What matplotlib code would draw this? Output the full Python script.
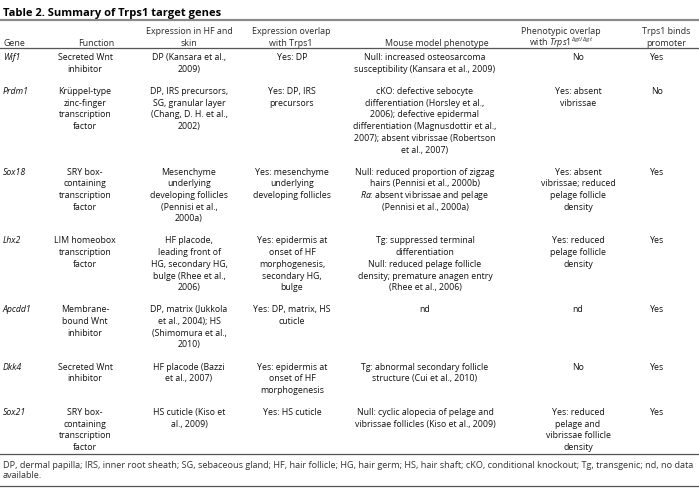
import matplotlib
matplotlib.use("Agg")
import matplotlib.pyplot as plt

plt.rcParams['font.family'] = ['Open Sans', 'DejaVu Sans']
plt.rcParams['mathtext.fontset'] = 'custom'
plt.rcParams['mathtext.rm'] = 'Open Sans'
plt.rcParams['mathtext.it'] = 'Open Sans:italic'

title = "Table 2. Summary of Trps1 target genes"

headers = ["Gene", "Function", "Expression in HF and\nskin", "Expression overlap\nwith Trps1",
           "Mouse model phenotype", "Phenotypic overlap\nwith $\\mathit{Trps1}^{\\mathit{\\Delta gt/\\Delta gt}}$",
           "Trps1 binds\npromoter"]

genes = ["Wif1", "Prdm1", "Sox18", "Lhx2", "Apcdd1", "Dkk4", "Sox21"]
functions = ["Secreted Wnt\ninhibitor",
             "Krüppel-type\nzinc-finger\ntranscription\nfactor",
             "SRY box-\ncontaining\ntranscription\nfactor",
             "LIM homeobox\ntranscription\nfactor",
             "Membrane-\nbound Wnt\ninhibitor",
             "Secreted Wnt\ninhibitor",
             "SRY box-\ncontaining\ntranscription\nfactor"]
expr_hf = ["DP (Kansara et al.,\n2009)",
           "DP, IRS precursors,\nSG, granular layer\n(Chang, D. H. et al.,\n2002)",
           "Mesenchyme\nunderlying\ndeveloping follicles\n(Pennisi et al.,\n2000a)",
           "HF placode,\nleading front of\nHG, secondary HG,\nbulge (Rhee et al.,\n2006)",
           "DP, matrix (Jukkola\net al., 2004); HS\n(Shimomura et al.,\n2010)",
           "HF placode (Bazzi\net al., 2007)",
           "HS cuticle (Kiso et\nal., 2009)"]
expr_overlap = ["Yes: DP",
                "Yes: DP, IRS\nprecursors",
                "Yes: mesenchyme\nunderlying\ndeveloping follicles",
                "Yes: epidermis at\nonset of HF\nmorphogenesis,\nsecondary HG,\nbulge",
                "Yes: DP, matrix, HS\ncuticle",
                "Yes: epidermis at\nonset of HF\nmorphogenesis",
                "Yes: HS cuticle"]
phenotype = ["Null: increased osteosarcoma\nsusceptibility (Kansara et al., 2009)",
             "cKO: defective sebocyte\ndifferentiation (Horsley et al.,\n2006); defective epidermal\n"
             "differentiation (Magnusdottir et al.,\n2007); absent vibrissae (Robertson\net al., 2007)",
             "Null: reduced proportion of zigzag\nhairs (Pennisi et al., 2000b)\n"
             "$\\mathit{Ra}$: absent vibrissae and pelage\n(Pennisi et al., 2000a)",
             "Tg: suppressed terminal\ndifferentiation\nNull: reduced pelage follicle\n"
             "density; premature anagen entry\n(Rhee et al., 2006)",
             "nd",
             "Tg: abnormal secondary follicle\nstructure (Cui et al., 2010)",
             "Null: cyclic alopecia of pelage and\nvibrissae follicles (Kiso et al., 2009)"]
pheno_overlap = ["No",
                 "Yes: absent\nvibrissae",
                 "Yes: absent\nvibrissae; reduced\npelage follicle\ndensity",
                 "Yes: reduced\npelage follicle\ndensity",
                 "nd",
                 "No",
                 "Yes: reduced\npelage and\nvibrissae follicle\ndensity"]
binds = ["Yes", "No", "Yes", "Yes", "Yes", "Yes", "Yes"]

footnote = ("DP, dermal papilla; IRS, inner root sheath; SG, sebaceous gland; HF, hair follicle; HG, hair germ; "
            "HS, hair shaft; cKO, conditional knockout; Tg, transgenic; nd, no data\navailable.")

columns = [genes, functions, expr_hf, expr_overlap, phenotype, pheno_overlap, binds]

# layout (pixels)
W, H = 699, 489
body_x = [3, 85, 189, 292, 425, 578, 657]
head_x = [3, 96, 189, 291, 437, 561, 666]
LINE = 11.7
GAP = 10.4
FS = 6.3

fig = plt.figure(figsize=(W / 100, H / 100), dpi=100)
ax = fig.add_axes([0, 0, 1, 1])
ax.set_xlim(0, W)
ax.set_ylim(H, 0)
ax.axis('off')

ax.text(3, 16, title, fontsize=8.0, fontweight='bold', va='baseline')
ax.plot([0, W], [20.5, 20.5], color='#8a8a8a', lw=1.6, solid_capstyle='butt')

for j, h in enumerate(headers):
    nl = h.count("\n") + 1
    y0 = 42.5 - (nl - 1) * 11.3
    for i, line in enumerate(h.split("\n")):
        ax.text(head_x[j], y0 + i * 11.3 + 3, line, ha='left' if j == 0 else 'center',
                va='baseline', fontsize=6.4, color='#2a2a2a')
ax.plot([0, W], [49, 49], color='#555555', lw=0.9)

y = 57
for r in range(len(genes)):
    nrow = 1
    for j, col in enumerate(columns):
        s = col[r]
        nrow = max(nrow, s.count("\n") + 1)
        style = 'italic' if j == 0 else 'normal'
        for i, line in enumerate(s.split("\n")):
            ax.text(body_x[j], y + i * LINE + 3.2, line, ha='left' if j == 0 else 'center',
                    va='baseline', fontsize=FS, style=style, color='#111111')
    y += nrow * LINE + GAP

ax.plot([0, W], [455, 455], color='#555555', lw=0.9)
for i, line in enumerate(footnote.split("\n")):
    ax.text(3, 467.5 + i * 10.5, line, ha='left', va='baseline', fontsize=6.55, color='#333333')
ax.plot([0, W], [486.5, 486.5], color='#555555', lw=0.9)

fig.savefig("out.png", dpi=100)
